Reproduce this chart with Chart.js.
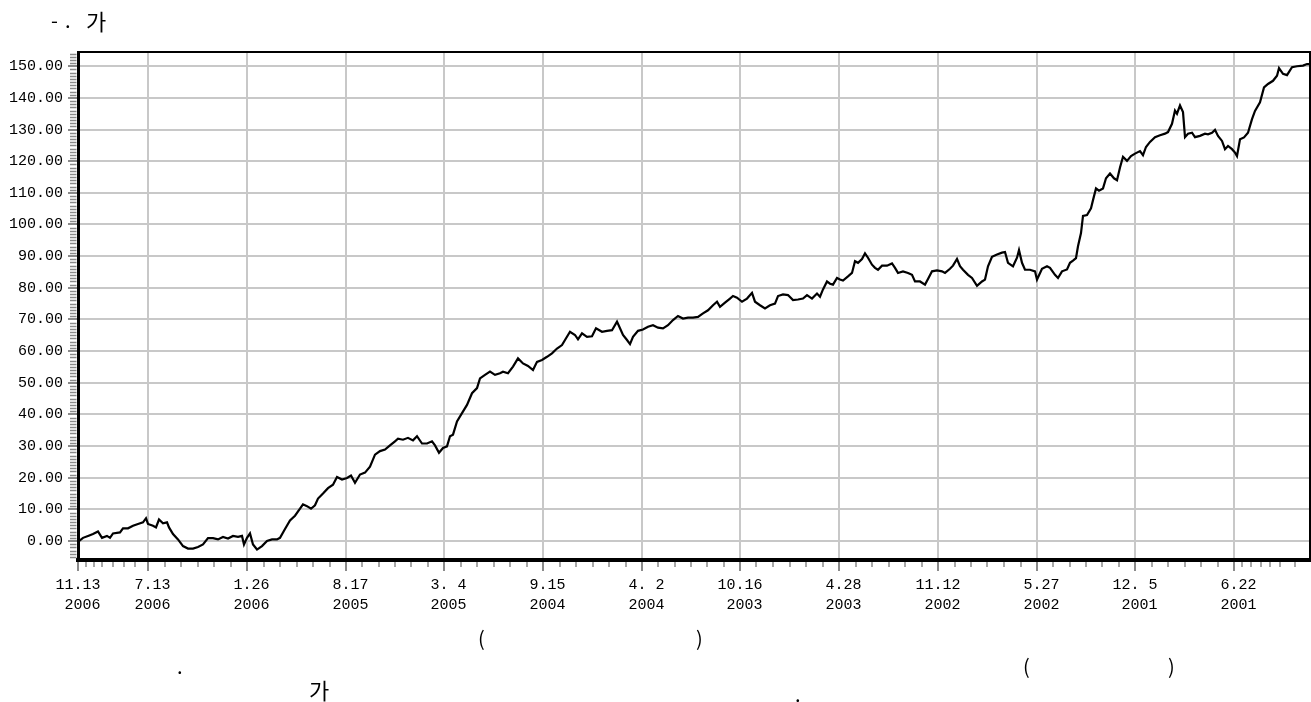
<!DOCTYPE html>
<html>
<head>
<meta charset="utf-8">
<script src="https://cdn.jsdelivr.net/npm/chart.js@4.4.1/dist/chart.umd.min.js"></script>
<style>
body { margin: 0; background: #fff; }
#wrap { position: relative; width: 1311px; height: 702px; overflow: hidden; }
#c { position: absolute; left: 0; top: 0; }
.t { position: absolute; font-family: "Noto Sans CJK KR", sans-serif; color: #000; white-space: pre; line-height: 1; }
</style>
</head>
<body>
<div id="wrap">
  <canvas id="c" width="1311" height="702"></canvas>
  <div class="t" style="left:51px; top:10px; font-size:20px; letter-spacing:7px">-.</div>
  <div class="t" style="left:86px; top:9px; font-size:22px">가</div>
  <div class="t" style="left:478px; top:628px; font-size:20px">(</div>
  <div class="t" style="left:696px; top:628px; font-size:20px">)</div>
  <div class="t" style="left:177px; top:656px; font-size:20px">.</div>
  <div class="t" style="left:1023px; top:656px; font-size:20px">(</div>
  <div class="t" style="left:1168px; top:656px; font-size:20px">)</div>
  <div class="t" style="left:309px; top:678px; font-size:22px">가</div>
  <div class="t" style="left:795px; top:684px; font-size:20px">.</div>
</div>
<script>
// trading-day index (0 = 11.13 2006, counting back in time) and index value
var days = [0, 1, 5, 10, 15, 20, 24, 29, 32, 35, 42, 45, 50, 55, 60, 65, 68, 70, 75, 78,
  81, 85, 89, 91, 95, 100, 105, 110, 115, 120, 125, 130, 135, 140, 145, 150, 155, 160, 164, 166,
  169, 172, 175, 179, 184, 189, 194, 199, 202, 207, 212, 217, 222, 225, 229, 233, 237, 240, 245, 250,
  255, 259, 264, 269, 273, 277, 282, 287, 292, 297, 302, 307, 312, 317, 320, 325, 330, 335, 339, 344,
  349, 354, 357, 361, 365, 369, 372, 375, 379, 384, 389, 394, 399, 402, 407, 412, 417, 422, 425, 430,
  435, 440, 445, 450, 455, 459, 464, 469, 474, 479, 484, 487, 492, 497, 500, 504, 509, 514, 518, 524,
  529, 534, 539, 542, 545, 549, 552, 555, 560, 565, 570, 575, 580, 585, 590, 595, 600, 605, 610, 615,
  620, 625, 630, 635, 639, 642, 647, 652, 655, 659, 664, 669, 674, 677, 682, 687, 692, 697, 700, 705,
  710, 715, 720, 725, 729, 734, 739, 742, 745, 749, 752, 755, 759, 762, 765, 770, 774, 777, 780, 784,
  787, 790, 794, 797, 800, 804, 809, 814, 817, 820, 825, 830, 834, 837, 842, 847, 850, 854, 859, 864,
  867, 872, 875, 879, 882, 885, 890, 894, 899, 904, 907, 910, 914, 919, 924, 927, 930, 935, 939, 941,
  944, 947, 952, 957, 959, 964, 969, 972, 977, 980, 984, 989, 992, 995, 998, 1000, 1003, 1005, 1009, 1013,
  1015, 1018, 1021, 1025, 1028, 1032, 1036, 1039, 1042, 1045, 1049, 1053, 1057, 1062, 1065, 1068, 1072, 1077, 1082, 1087,
  1090, 1094, 1097, 1099, 1102, 1105, 1107, 1110, 1114, 1117, 1122, 1127, 1130, 1134, 1137, 1140, 1144, 1147, 1150, 1154,
  1157, 1159, 1162, 1166, 1170, 1174, 1177, 1182, 1186, 1190, 1195, 1199, 1201, 1205, 1209, 1214, 1219, 1225, 1229, 1231];
var values = [0.3, 0.0, 1.0, 1.6, 2.2, 3.0, 1.0, 1.6, 1.0, 2.4, 2.7, 4.0, 4.0, 4.8, 5.4, 5.9, 7.2, 5.4, 4.8, 4.3,
  6.8, 5.6, 5.9, 4.3, 2.2, 0.5, -1.6, -2.4, -2.4, -1.9, -1.1, 0.9, 0.9, 0.5, 1.3, 0.8, 1.6, 1.3, 1.6, -1.1,
  1.0, 2.4, -1.1, -2.7, -1.6, 0.0, 0.5, 0.5, 1.0, 3.8, 6.5, 8.0, 10.2, 11.6, 11.0, 10.2, 11.3, 13.4, 15.0, 16.7,
  17.8, 20.2, 19.4, 19.9, 20.7, 18.4, 21.0, 21.6, 23.5, 27.3, 28.4, 28.9, 30.2, 31.5, 32.3, 32.0, 32.6, 31.8, 33.1, 30.8,
  30.8, 31.5, 30.2, 27.9, 29.4, 29.9, 33.1, 33.6, 37.8, 40.4, 43.0, 46.7, 48.3, 51.4, 52.5, 53.5, 52.5, 53.0, 53.5, 53.0,
  55.1, 57.7, 56.1, 55.3, 54.0, 56.6, 57.2, 58.2, 59.3, 60.8, 61.9, 63.5, 66.1, 65.1, 63.7, 65.6, 64.5, 64.7, 67.2, 66.1,
  66.4, 66.6, 69.3, 67.2, 65.1, 63.5, 62.2, 64.5, 66.4, 66.8, 67.7, 68.2, 67.4, 67.2, 68.2, 69.8, 71.1, 70.3, 70.6, 70.6,
  70.8, 71.9, 72.9, 74.5, 75.6, 74.0, 75.3, 76.6, 77.4, 76.9, 75.6, 76.6, 78.4, 75.6, 74.5, 73.5, 74.5, 75.0, 77.4, 77.9,
  77.7, 76.1, 76.3, 76.6, 77.7, 76.6, 78.2, 77.2, 79.5, 82.0, 81.3, 81.0, 83.1, 82.6, 82.3, 83.6, 84.7, 88.4, 87.9, 89.1,
  90.9, 89.5, 87.3, 86.3, 85.7, 87.0, 87.0, 87.7, 86.3, 84.7, 85.2, 84.7, 84.1, 82.0, 82.0, 81.0, 82.8, 85.2, 85.5, 85.2,
  84.7, 86.0, 87.0, 89.1, 86.8, 85.7, 84.1, 83.1, 80.6, 82.0, 82.6, 86.8, 89.8, 90.5, 91.1, 91.3, 87.9, 86.8, 89.5, 91.9,
  87.9, 85.7, 85.7, 85.2, 82.6, 86.0, 86.8, 86.3, 84.1, 83.1, 85.2, 85.8, 87.9, 88.6, 89.4, 93.1, 97.3, 102.7, 103.0, 105.1,
  107.7, 111.4, 110.7, 111.4, 114.6, 116.1, 114.6, 114.0, 118.0, 121.4, 120.1, 121.6, 122.4, 123.2, 121.9, 124.5, 126.1, 127.6, 128.2, 128.7,
  129.2, 131.8, 136.0, 135.0, 137.6, 135.5, 127.6, 128.7, 129.0, 127.6, 128.0, 128.7, 128.5, 129.0, 129.9, 128.0, 126.4, 123.8, 124.8, 123.8,
  122.7, 121.6, 126.9, 127.5, 129.0, 133.3, 135.9, 138.6, 143.3, 144.4, 145.4, 147.0, 149.4, 147.6, 147.2, 149.7, 150.0, 150.2, 150.7, 150.7];

// labelled date ticks on the x axis
var tickDays = [0, 70, 169, 268, 366, 465, 564, 662, 761, 860, 959, 1057, 1156];
var tickDates = ['11.13', ' 7.13', ' 1.26', ' 8.17', ' 3. 4', ' 9.15', ' 4. 2', '10.16', ' 4.28', '11.12', ' 5.27', '12. 5', ' 6.22'];
var tickYears = [' 2006', ' 2006', ' 2006', ' 2005', ' 2005', ' 2004', ' 2004', ' 2003', ' 2003', ' 2002', ' 2002', ' 2001', ' 2001'];
var yTicks = [0, 10, 20, 30, 40, 50, 60, 70, 80, 90, 100, 110, 120, 130, 140, 150];

// small month ticks: irregular at both ends, five per gap in between
var minorDays = [8, 16, 24, 35, 46, 57, 1164, 1173, 1183, 1192, 1202, 1217];
for (var k = 1; k < tickDays.length - 1; k++) {
  for (var m = 1; m <= 5; m++) {
    minorDays.push(tickDays[k] + (tickDays[k + 1] - tickDays[k]) * m / 6);
  }
}

var points = days.map(function (d, i) { return { x: d, y: values[i] }; });

// frame on top/right plus the fine tick marks
var extras = {
  id: 'extras',
  afterDraw: function (chart) {
    var ctx = chart.ctx, a = chart.chartArea, x = chart.scales.x, y = chart.scales.y;
    ctx.save();
    ctx.strokeStyle = '#8a8a8a';
    ctx.lineWidth = 1.5;
    ctx.beginPath();
    for (var v = -5; v <= 154; v++) {
      if (v % 10 === 0) continue;
      var py = Math.round(y.getPixelForValue(v)) + 0.5;
      ctx.moveTo(a.left - 8, py);
      ctx.lineTo(a.left - 1.5, py);
    }
    minorDays.forEach(function (d) {
      var px = Math.round(x.getPixelForValue(d));
      ctx.moveTo(px, a.bottom + 2);
      ctx.lineTo(px, a.bottom + 7);
    });
    ctx.stroke();
    ctx.strokeStyle = '#000';
    ctx.lineWidth = 2;
    ctx.beginPath();
    ctx.moveTo(a.left, a.top);
    ctx.lineTo(a.right, a.top);
    ctx.lineTo(a.right, a.bottom);
    ctx.stroke();
    ctx.restore();
  }
};

var ctx = document.getElementById('c');
var config = {
  type: 'line',
  data: {
    datasets: [{
      data: points,
      borderColor: '#000',
      borderWidth: 2.2,
      pointRadius: 0,
      tension: 0,
      fill: false
    }]
  },
  options: {
    responsive: false,
    animation: false,
    events: [],
    layout: { padding: { top: 52, right: 1, left: 0, bottom: 0 } },
    plugins: { legend: { display: false }, tooltip: { enabled: false } },
    scales: {
      x: {
        type: 'linear',
        min: 0,
        max: 1232,
        afterBuildTicks: function (s) { s.ticks = tickDays.map(function (d) { return { value: d }; }); },
        afterFit: function (s) { s.height = 142; },
        ticks: {
          autoSkip: false,
          maxRotation: 0,
          padding: 4,
          color: '#000',
          font: { family: 'Liberation Mono', size: 15, lineHeight: 1.35 },
          callback: function (v, i) { return [tickDates[i], tickYears[i]]; }
        },
        grid: { color: '#c8c8c8', lineWidth: 2, tickLength: 11, tickColor: '#8a8a8a', tickWidth: 2 },
        border: { color: '#000', width: 4 }
      },
      y: {
        min: -6,
        max: 154.5,
        afterBuildTicks: function (s) { s.ticks = yTicks.map(function (v) { return { value: v }; }); },
        afterFit: function (s) { s.width = 78; },
        ticks: {
          padding: 5,
          color: '#000',
          font: { family: 'Liberation Mono', size: 15 },
          callback: function (v) { return v.toFixed(2); }
        },
        grid: { color: '#c8c8c8', lineWidth: 2, tickLength: 10, tickColor: '#8a8a8a', tickWidth: 2 },
        border: { color: '#000', width: 3 }
      }
    }
  },
  plugins: [extras]
};

var chart = new Chart(ctx, config);
</script>
</body>
</html>
